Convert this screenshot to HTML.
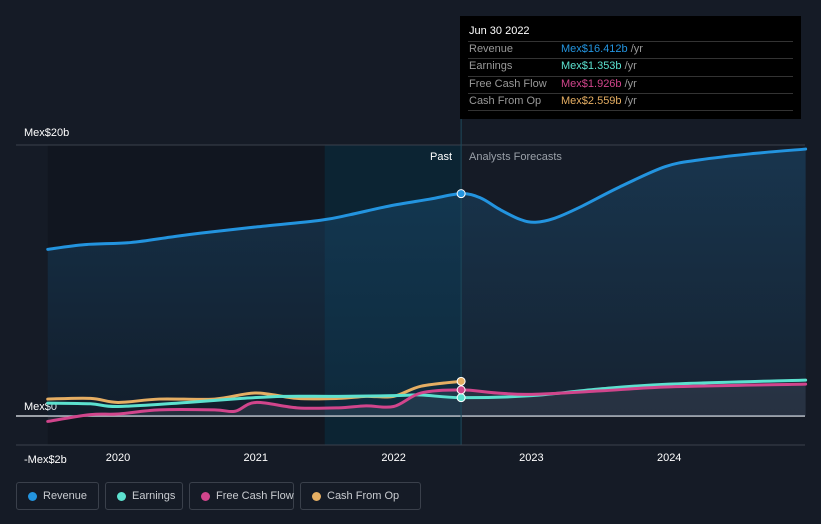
<!DOCTYPE html>
<html><head><meta charset="utf-8"><style>
body{margin:0;background:#151b26;font-family:"Liberation Sans",sans-serif;overflow:hidden;}
svg{display:block}
.leg{position:absolute;top:482px;height:28px;border:1px solid #3a404b;border-radius:3px;color:#c9ccd1;font-size:11px;line-height:27px;box-sizing:border-box;padding-left:26px;white-space:nowrap}
.leg i{position:absolute;left:11px;top:9px;width:9px;height:9px;border-radius:50%}
.tt{font-size:11px}
</style></head><body>
<div style="position:relative;width:821px;height:524px;overflow:hidden">
<svg id="c" width="821" height="524"></svg>
<div class="leg" style="left:16px;width:83px"><i style="background:#2394df"></i>Revenue</div>
<div class="leg" style="left:105px;width:78px"><i style="background:#5ce1cf"></i>Earnings</div>
<div class="leg" style="left:189px;width:105px"><i style="background:#d1458c"></i>Free Cash Flow</div>
<div class="leg" style="left:300px;width:121px"><i style="background:#e5ae63"></i>Cash From Op</div>
<div class="tt" style="position:absolute;left:460px;top:16px;width:341px;height:103px;background:#000;color:#fff">
<div style="position:absolute;left:9px;top:9px">Jun 30 2022</div>
<div style="position:absolute;left:8px;right:8px;top:25px;border-top:1px solid #333"></div>
<div style="position:absolute;left:9px;top:27px;color:#999">Revenue</div><div style="position:absolute;left:101px;top:27px;color:#999"><span style="color:#2394df">Mex$16.412b</span> /yr</div>
<div style="position:absolute;left:8px;right:8px;top:42px;border-top:1px solid #333"></div>
<div style="position:absolute;left:9px;top:44px;color:#999">Earnings</div><div style="position:absolute;left:101px;top:44px;color:#999"><span style="color:#5ce1cf">Mex$1.353b</span> /yr</div>
<div style="position:absolute;left:8px;right:8px;top:60px;border-top:1px solid #333"></div>
<div style="position:absolute;left:9px;top:62px;color:#999">Free Cash Flow</div><div style="position:absolute;left:101px;top:62px;color:#999"><span style="color:#d1458c">Mex$1.926b</span> /yr</div>
<div style="position:absolute;left:8px;right:8px;top:77px;border-top:1px solid #333"></div>
<div style="position:absolute;left:9px;top:79px;color:#999">Cash From Op</div><div style="position:absolute;left:101px;top:79px;color:#999"><span style="color:#e5ae63">Mex$2.559b</span> /yr</div>
<div style="position:absolute;left:8px;right:8px;top:94px;border-top:1px solid #333"></div>
</div>
</div>
<script>
const revT=[2019.49,2019.76,2020.09,2020.38,2020.6,2021.0,2021.47,2021.68,2021.97,2022.26,2022.49,2022.63,2022.77,2022.92,2023.03,2023.17,2023.35,2023.64,2023.97,2024.22,2024.59,2024.99];
const revV=[12.3,12.65,12.8,13.2,13.5,13.95,14.45,14.85,15.5,16.0,16.41,16.1,15.25,14.5,14.3,14.6,15.4,16.9,18.4,18.9,19.35,19.7];
const earnT=[2019.49,2019.8,2020.0,2020.5,2020.9,2021.2,2021.6,2022.0,2022.2,2022.49,2023.0,2023.5,2024.0,2024.99];
const earnV=[0.95,0.9,0.7,1.0,1.3,1.45,1.45,1.5,1.55,1.353,1.5,2.0,2.35,2.65];
const fcfT=[2019.49,2019.8,2020.0,2020.3,2020.7,2020.85,2021.0,2021.3,2021.6,2021.8,2022.0,2022.2,2022.49,2022.75,2023.0,2023.5,2024.0,2024.99];
const fcfV=[-0.4,0.1,0.15,0.45,0.45,0.35,1.0,0.6,0.6,0.75,0.7,1.7,1.926,1.7,1.6,1.85,2.15,2.35];
const cfoT=[2019.49,2019.8,2020.0,2020.3,2020.7,2021.0,2021.3,2021.6,2021.8,2022.0,2022.2,2022.49];
const cfoV=[1.25,1.3,1.0,1.25,1.25,1.7,1.3,1.3,1.45,1.45,2.2,2.559];
const yTicks=[20,0,-2];const yLabels=["Mex$20b","Mex$0","-Mex$2b"];
const xTicks=[2020,2021,2022,2023,2024];
const X=t=>118+(t-2020)*137.8, Y=v=>416-v*13.55;
const NS="http://www.w3.org/2000/svg",svg=document.getElementById('c');
function el(tag,a,p){const e=document.createElementNS(NS,tag);for(const k in a)e.setAttribute(k,a[k]);(p||svg).appendChild(e);return e;}
function path(T,V){const P=T.map((t,i)=>[X(t),Y(V[i])]);let d=`M${P[0][0]},${P[0][1]}`;for(let i=0;i<P.length-1;i++){const p0=P[i-1]||P[i],p1=P[i],p2=P[i+1],p3=P[i+2]||p2;d+=`C${p1[0]+(p2[0]-p0[0])/6},${p1[1]+(p2[1]-p0[1])/6} ${p2[0]-(p3[0]-p1[0])/6},${p2[1]-(p3[1]-p1[1])/6} ${p2[0]},${p2[1]}`;}return d;}
const defs=el('defs',{});const g=el('linearGradient',{id:'rg',x1:0,y1:0,x2:0,y2:1},defs);
el('stop',{offset:0,'stop-color':'#1a4a6e','stop-opacity':0.55},g);el('stop',{offset:1,'stop-color':'#1a4a6e','stop-opacity':0.15},g);
const xs=X(2019.49),xp=X(2022.49),xe=X(2024.99);
let r=el('rect',{x:xs,y:145,width:xp-xs,height:300,fill:'#111620'});
r=el('rect',{x:X(2021.5),y:145,width:xp-X(2021.5),height:300,fill:'#0c2433'});
yTicks.forEach((v,i)=>{if(v!==-2){const l=el('line',{x1:16,x2:805,y1:Y(v),y2:Y(v),stroke:v===0?'#c8ccd2':'#3a414c','stroke-width':v===0?1.5:1});}
 const t=el('text',{x:24,y:Y(v)+(v===20?-9:v===0?-6:20),fill:'#fff','font-size':11});t.textContent=yLabels[i];});
let a=el('path',{d:path(revT,revV)+`L${xe},${Y(0)}L${xs},${Y(0)}Z`,fill:'url(#rg)'});
a=el('path',{d:path(fcfT,fcfV)+`L${xe},${Y(0)}L${xs},${Y(0)}Z`,fill:'#8a90a0','fill-opacity':0.15});
el('line',{x1:xp,x2:xp,y1:16,y2:445,stroke:'#1d4a5c','stroke-width':1});
el('line',{x1:16,x2:805,y1:445,y2:445,stroke:'#3a414c'});
xTicks.forEach(t=>{const tx=el('text',{x:X(t),y:461,fill:'#fff','font-size':11,'text-anchor':'middle'});tx.textContent=t;});
let tx=el('text',{x:452,y:160,fill:'#fff','font-size':11,'text-anchor':'end'});tx.textContent='Past';
tx=el('text',{x:469,y:160,fill:'#9aa0a8','font-size':11});tx.textContent='Analysts Forecasts';
[[cfoT,cfoV,'#e5ae63','cash-from-op-line'],[earnT,earnV,'#5ce1cf','earnings-line'],[fcfT,fcfV,'#d1458c','free-cash-flow-line'],[revT,revV,'#2394df','revenue-line']].forEach(([T,V,c,n])=>{
 const p=el('path',{d:path(T,V),fill:'none',stroke:c,'stroke-width':3,'stroke-linecap':'round'});
 const i=T.indexOf(2022.49);const d=el('circle',{cx:X(T[i]),cy:Y(V[i]),r:4,fill:c,stroke:'#fff','stroke-width':1});});
</script></body></html>
